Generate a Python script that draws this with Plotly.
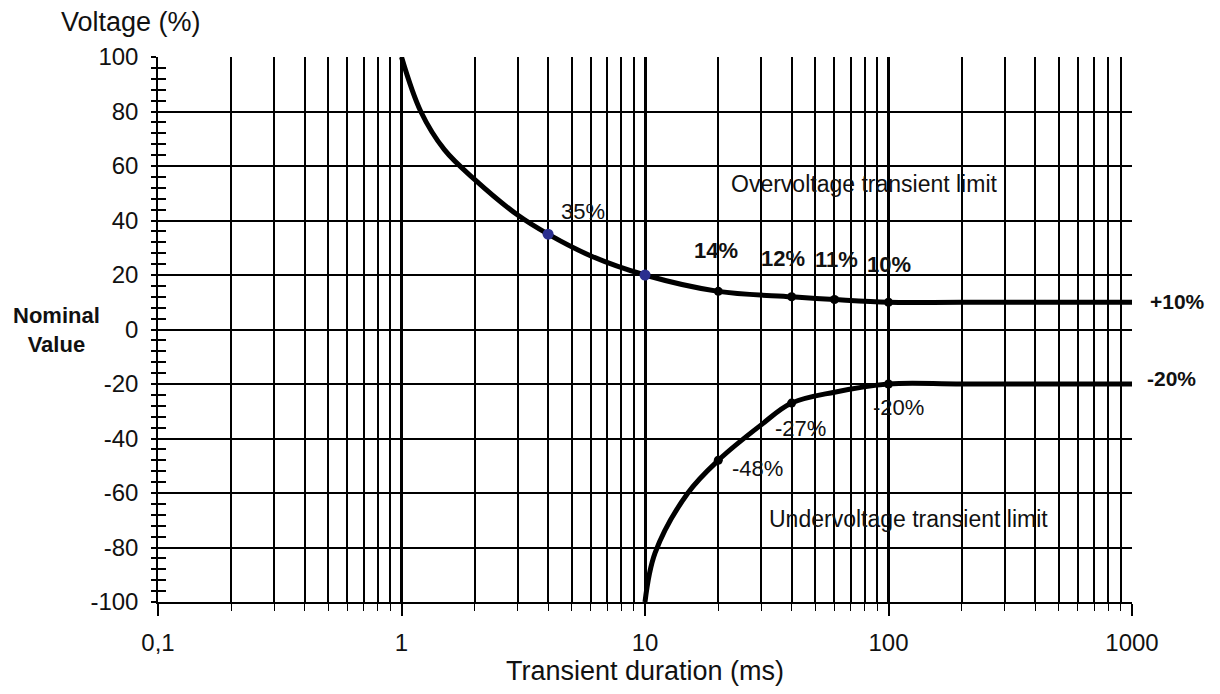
import math
import plotly.graph_objects as go

# Overvoltage limit curve (duration in ms, voltage deviation in %)
over_t = [1, 1.2, 1.5, 2, 3, 4, 6, 10, 20, 40, 60, 100, 200, 1000]
over_v = [100, 80, 66, 55, 42, 35, 27, 20, 14, 12, 11, 10, 10, 10]

# Undervoltage limit curve
under_t = [10, 11, 15, 20, 30, 40, 60, 100, 200, 1000]
under_v = [-100, -82, -60, -48, -35, -27, -23, -20, -20, -20]

# Marked points on the limit curves
blue_t = [4, 10]
blue_v = [35, 20]
dot_t = [20, 40, 60, 100, 20, 40, 100]
dot_v = [14, 12, 11, 10, -48, -27, -20]

# Point labels
label_text = ["35%", "<b>14%</b>", "<b>12%</b>", "<b>11%</b>", "<b>10%</b>", "-48%", "-27%", "-20%"]
label_t = [4, 20, 40, 60, 100, 20, 40, 100]
label_v = [35, 14, 12, 11, 10, -48, -27, -20]

y_tickvals = [100, 80, 60, 40, 20, 0, -20, -40, -60, -80, -100]
y_ticktext = ["100", "80", "60", "40", "20", "0", "-20", "-40", "-60", "-80", "-100"]
x_tickvals = [0.1, 1, 10, 100, 1000]
x_ticktext = ["0,1", "1", "10", "100", "1000"]

FONT = "Liberation Sans, Arial, sans-serif"
INK = "#111111"

fig = go.Figure()

curve_line = dict(color="black", width=5, shape="spline", smoothing=1.0)
fig.add_trace(go.Scatter(x=over_t, y=over_v, mode="lines", line=curve_line,
                         hoverinfo="skip", showlegend=False))
fig.add_trace(go.Scatter(x=under_t, y=under_v, mode="lines", line=curve_line,
                         hoverinfo="skip", showlegend=False))
fig.add_trace(go.Scatter(x=dot_t, y=dot_v, mode="markers",
                         marker=dict(color="black", size=9), showlegend=False))
fig.add_trace(go.Scatter(x=blue_t, y=blue_v, mode="markers",
                         marker=dict(color="#2b2f8f", size=11), showlegend=False))
# overlay axis carrying the inner half of the y ticks
fig.add_trace(go.Scatter(x=[0.1], y=[0], yaxis="y2", mode="markers",
                         marker=dict(opacity=0), hoverinfo="skip", showlegend=False))

# pixel offsets of each label from its point
label_dx = [35, -2, -9, 2, 0, 39, 9, 10]
label_dy = [23, 41, 38, 40, 38, -8, -25, -23]
for txt, t, v, dx, dy in zip(label_text, label_t, label_v, label_dx, label_dy):
    fig.add_annotation(x=math.log10(t), y=v, text=txt, showarrow=False,
                       xshift=dx, yshift=dy,
                       font=dict(family=FONT, size=22, color=INK))

fig.add_annotation(x=1.899, y=53.3, text="Overvoltage transient limit",
                   showarrow=False, xanchor="center",
                   font=dict(family=FONT, size=23, color=INK))
fig.add_annotation(x=2.084, y=-69.4, text="Undervoltage transient limit",
                   showarrow=False, xanchor="center",
                   font=dict(family=FONT, size=23, color=INK))
fig.add_annotation(x=1.047, y=10.4, xref="paper", yref="y", text="<b>+10%</b>",
                   showarrow=False, xanchor="center",
                   font=dict(family=FONT, size=21, color=INK))
fig.add_annotation(x=1.041, y=-17.8, xref="paper", yref="y", text="<b>-20%</b>",
                   showarrow=False, xanchor="center",
                   font=dict(family=FONT, size=21, color=INK))
fig.add_annotation(x=-0.104, y=0, xref="paper", yref="y",
                   text="<b>Nominal<br>Value</b>", showarrow=False, xanchor="center",
                   font=dict(family=FONT, size=22, color=INK))
fig.add_annotation(x=-0.028, y=1.0, xref="paper", yref="paper", yshift=35,
                   text="Voltage (%)", showarrow=False, xanchor="center", yanchor="middle",
                   font=dict(family=FONT, size=27, color=INK))

fig.update_layout(
    width=1220, height=694,
    margin=dict(l=158, r=88, t=57, b=92),
    paper_bgcolor="white", plot_bgcolor="white",
    font=dict(family=FONT, size=24, color=INK),
    xaxis=dict(
        type="log", range=[-1, 3],
        tickvals=x_tickvals, ticktext=x_ticktext,
        showgrid=True, gridcolor="black", gridwidth=2.5,
        ticks="outside", ticklen=12, tickwidth=2, tickcolor="black",
        ticklabelstandoff=6,
        showline=True, linecolor="black", linewidth=1.5,
        zeroline=False,
        minor=dict(dtick="D1", showgrid=True, gridcolor="black", gridwidth=1.7,
                   ticks="outside", ticklen=7, tickcolor="black", tickwidth=1),
        title=dict(text="Transient duration (ms)", font=dict(size=27), standoff=6),
    ),
    yaxis=dict(
        range=[-100, 100], tickvals=y_tickvals, ticktext=y_ticktext,
        showgrid=True, gridcolor="black", gridwidth=1.7,
        zeroline=False,
        ticks="outside", ticklen=5, tickwidth=1.5, tickcolor="black",
        ticklabelstandoff=8,
        showline=True, linecolor="black", linewidth=1.5,
        minor=dict(dtick=4, ticks="outside", ticklen=5, tickcolor="black", tickwidth=1.5),
    ),
    yaxis2=dict(
        overlaying="y", side="left", range=[-100, 100], dtick=20,
        showgrid=False, zeroline=False, showticklabels=False,
        ticks="inside", ticklen=8, tickwidth=1.5, tickcolor="black",
        minor=dict(dtick=4, ticks="inside", ticklen=8, tickcolor="black", tickwidth=1.5),
    ),
)

fig.write_html("out.html")
